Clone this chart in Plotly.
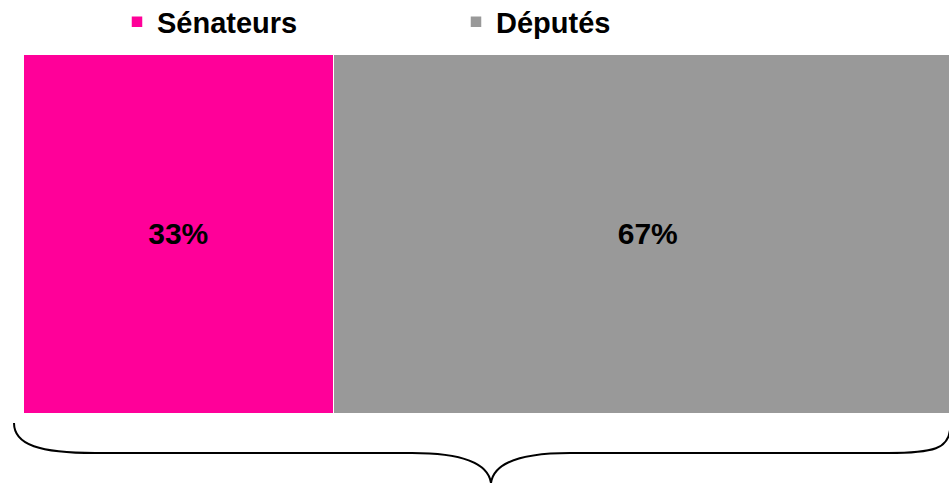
import plotly.graph_objects as go

categories = ["Total"]
series_names = ["Sénateurs", "Députés"]
series_values = [[33], [67]]
colors = ["#FF0099", "#999999"]

W, H = 949, 483
L, R, T, B = 24, 0, 55, 69
pw, ph = W - L - R, H - T - B

def px(X):
    return (X - L) / pw

def py(Y):
    return (H - B - Y) / ph

fig = go.Figure()
for name, vals, col in zip(series_names, series_values, colors):
    fig.add_trace(go.Bar(
        x=vals, y=categories, name=name, orientation="h",
        marker=dict(color=col, line=dict(color="white", width=1.5)),
        texttemplate="%{x}%", textposition="inside", insidetextanchor="middle",
        textfont=dict(family="Liberation Sans, Arial", size=30, color="black", weight="bold"),
    ))

# curly brace (pixel coords converted to paper)
pts = [
    ("M", [(14, 423)]),
    ("C", [(14, 445), (40, 453), (95, 453)]),
    ("L", [(412, 453)]),
    ("C", [(460, 453), (488, 462), (491, 483)]),
    ("C", [(494, 462), (522, 453), (570, 453)]),
    ("L", [(888, 453)]),
    ("C", [(935, 453), (948, 448), (950, 430)]),
]
path = " ".join(cmd + " " + " ".join(f"{px(x):.5f},{py(y):.5f}" for x, y in p) for cmd, p in pts)
fig.add_shape(type="path", path=path, xref="paper", yref="paper",
              line=dict(color="black", width=2))

fig.update_layout(
    width=W, height=H,
    margin=dict(l=L, r=R, t=T, b=B, autoexpand=False),
    barmode="stack", bargap=0,
    plot_bgcolor="white", paper_bgcolor="white",
    xaxis=dict(range=[0, 98.5], visible=False, fixedrange=True),
    yaxis=dict(visible=False, range=[-0.5, 0.5], fixedrange=True),
    showlegend=True,
    legend=dict(orientation="h", xref="container", yref="container",
                x=117 / W, xanchor="left", y=1 - 22 / H, yanchor="middle",
                entrywidth=294, entrywidthmode="pixels",
                font=dict(family="Liberation Sans, Arial", size=29, color="black", weight="bold"),
                traceorder="normal"),
    font=dict(family="Liberation Sans, Arial"),
)

fig.write_html("out.html", config={"displayModeBar": False},
               post_script="document.body.style.margin='0';")
